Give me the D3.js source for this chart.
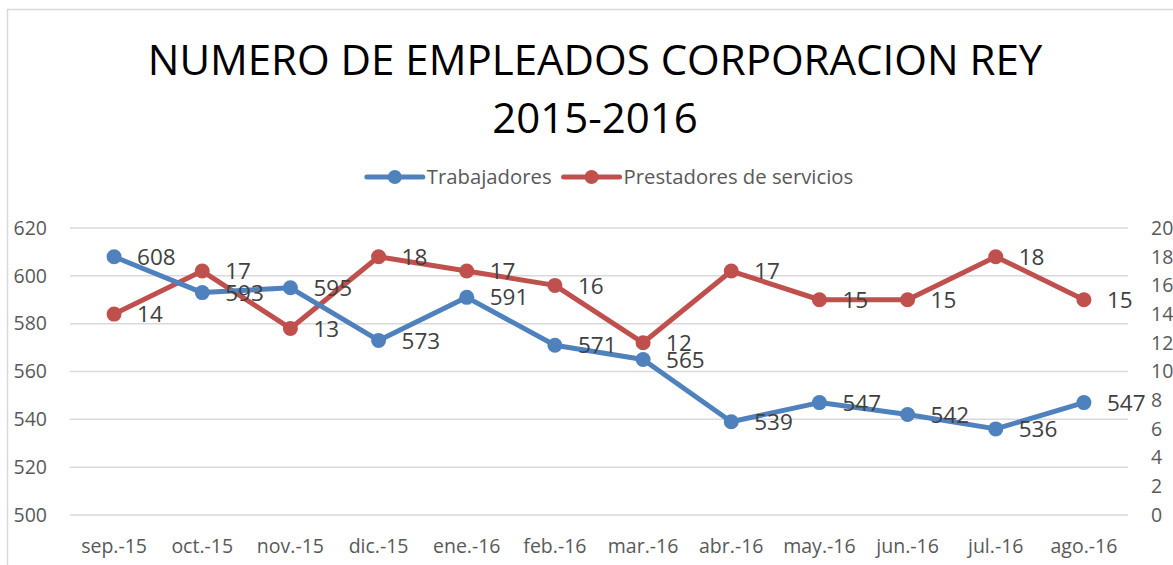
<!DOCTYPE html>
<html lang="es">
  <head>
    <meta charset="UTF-8" />
    <title>Numero de empleados Corporacion Rey</title>
    <script src="https://d3js.org/d3.v7.min.js"></script>
    <style>
      body { margin: 0; background: #fff; }
      text { font-family: "Open Sans", sans-serif; }
    </style>
  </head>
  <body>
    <svg width="1173" height="565"></svg>
    <script>
      // data
      const months = ["sep.-15", "oct.-15", "nov.-15", "dic.-15", "ene.-16", "feb.-16",
                      "mar.-16", "abr.-16", "may.-16", "jun.-16", "jul.-16", "ago.-16"];
      const trabajadores = [608, 593, 595, 573, 591, 571, 565, 539, 547, 542, 536, 547];
      const prestadores = [14, 17, 13, 18, 17, 16, 12, 17, 15, 15, 18, 15];
      const leftTicks = d3.range(500, 621, 20);
      const rightTicks = d3.range(0, 21, 2);

      const blue = "#4f81bd", red = "#c0504d";
      const svg = d3.select("svg");

      // chart border (cut at right/bottom like the original)
      svg.append("path")
        .attr("d", "M7.5,570V9.5H1180")
        .attr("fill", "none")
        .attr("stroke", "#d9d9d9")
        .attr("stroke-width", 1.5);

      // title
      const title = svg.append("text")
        .attr("text-anchor", "middle")
        .attr("font-size", 42)
        .attr("fill", "#000");
      title.append("tspan").attr("x", 595).attr("y", 75).text("NUMERO DE EMPLEADOS CORPORACION REY");
      title.append("tspan").attr("x", 595).attr("y", 133).text("2015-2016");

      // scales
      const x = d3.scaleBand().domain(months).range([70, 1128]);
      const yL = d3.scaleLinear().domain([500, 620]).range([515, 228]);
      const yR = d3.scaleLinear().domain([0, 20]).range([515, 228]);
      const cx = d => x(d) + x.bandwidth() / 2;

      // gridlines
      svg.append("g")
        .selectAll("line")
        .data(leftTicks)
        .join("line")
        .attr("x1", 70).attr("x2", 1128)
        .attr("y1", d => yL(d)).attr("y2", d => yL(d))
        .attr("stroke", "#d9d9d9")
        .attr("stroke-width", 1.5);

      // left axis labels
      svg.append("g")
        .selectAll("text")
        .data(leftTicks)
        .join("text")
        .attr("x", 47)
        .attr("y", d => yL(d))
        .attr("dy", "0.35em")
        .attr("text-anchor", "end")
        .attr("font-size", 19.5)
        .attr("fill", "#595959")
        .text(d => d);

      // right axis labels
      svg.append("g")
        .selectAll("text")
        .data(rightTicks)
        .join("text")
        .attr("x", 1151)
        .attr("y", d => yR(d))
        .attr("dy", "0.35em")
        .attr("font-size", 19.5)
        .attr("fill", "#595959")
        .text(d => d);

      // x axis labels
      svg.append("g")
        .selectAll("text")
        .data(months)
        .join("text")
        .attr("x", d => cx(d))
        .attr("y", 553)
        .attr("text-anchor", "middle")
        .attr("font-size", 19.5)
        .attr("fill", "#595959")
        .text(d => d);

      function drawSeries(values, y, color) {
        const pts = values.map((v, i) => [cx(months[i]), y(v), v]);
        svg.append("path")
          .datum(pts)
          .attr("d", d3.line())
          .attr("fill", "none")
          .attr("stroke", color)
          .attr("stroke-width", 5)
          .attr("stroke-linejoin", "round")
          .attr("stroke-linecap", "round");
        svg.append("g")
          .selectAll("circle")
          .data(pts)
          .join("circle")
          .attr("cx", d => d[0])
          .attr("cy", d => d[1])
          .attr("r", 7.5)
          .attr("fill", color);
        return pts;
      }

      const ptsR = drawSeries(prestadores, yR, red);
      const ptsB = drawSeries(trabajadores, yL, blue);

      // data labels (to the right of each point)
      svg.append("g")
        .selectAll("text")
        .data(ptsR.concat(ptsB))
        .join("text")
        .attr("x", d => d[0] + 23)
        .attr("y", d => d[1])
        .attr("dy", "0.36em")
        .attr("font-size", 22.5)
        .attr("fill", "#404040")
        .text(d => d[2]);

      // legend
      const legendItems = [
        { name: "Trabajadores", color: blue },
        { name: "Prestadores de servicios", color: red }
      ];
      const lg = svg.append("g");
      let lx = 0;
      legendItems.forEach(item => {
        const g = lg.append("g").attr("transform", `translate(${lx},0)`);
        g.append("line")
          .attr("x1", 0).attr("x2", 56)
          .attr("stroke", item.color)
          .attr("stroke-width", 5)
          .attr("stroke-linecap", "round");
        g.append("circle").attr("cx", 28).attr("r", 7).attr("fill", item.color);
        const t = g.append("text")
          .attr("x", 60)
          .attr("dy", "0.35em")
          .attr("font-size", 20.3)
          .attr("fill", "#595959")
          .text(item.name);
        lx += 60 + t.node().getComputedTextLength() + 12;
      });
      const lw = lx - 12;
      lg.attr("transform", `translate(${610 - lw / 2},177)`);
    </script>
  </body>
</html>
